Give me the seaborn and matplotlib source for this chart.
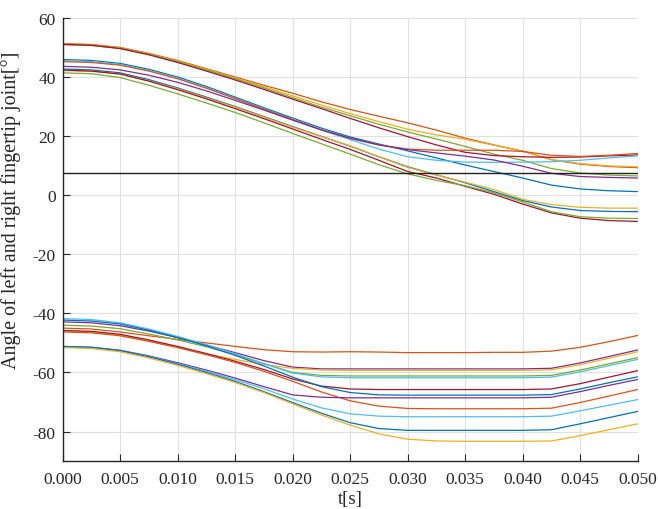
import numpy as np
import pandas as pd
import matplotlib
matplotlib.use("Agg")
import matplotlib.pyplot as plt
import seaborn as sns

# time samples [s]
t = [0.0, 0.0025, 0.005, 0.0075, 0.01, 0.0125, 0.015, 0.0175, 0.02, 0.0225,
     0.025, 0.0275, 0.03, 0.0325, 0.035, 0.0375, 0.04, 0.0425, 0.045, 0.0475, 0.05]

ref_level = 7.5

# ---- right fingertip joint (upper group) ----
up_orange_top = [51.3, 51.0, 50.0, 48.0, 45.6, 42.8, 40.0, 37.2, 34.5, 31.6, 29.0,
                 26.7, 24.5, 22.0, 19.3, 17.0, 14.9, 12.0, 10.5, 9.7, 9.3]
up_yellow_top = [51.1, 50.8, 49.8, 47.8, 45.4, 42.6, 39.7, 36.7, 33.6, 30.5, 27.6,
                 24.9, 22.3, 20.4, 18.9, 16.9, 14.9, 12.1, 10.7, 9.9, 9.6]
up_green_top = [51.0, 50.7, 49.7, 47.7, 45.2, 42.4, 39.4, 36.3, 33.0, 29.8, 26.9,
                24.0, 21.4, 19.0, 16.5, 13.9, 11.8, 9.0, 7.5, 6.8, 6.5]
up_darkred_top = [51.0, 50.7, 49.6, 47.5, 44.9, 42.0, 39.0, 35.8, 32.5, 29.3, 26.0,
                  22.8, 19.8, 17.0, 14.5, 13.4, 13.0, 12.8, 12.9, 13.3, 13.6]
up_blue_mid = [45.9, 45.6, 44.6, 42.6, 40.0, 36.8, 33.2, 29.6, 26.1, 22.7, 19.7,
               17.3, 15.0, 12.6, 10.2, 8.0, 5.8, 3.4, 2.1, 1.5, 1.2]
up_lightblue_mid = [45.5, 45.2, 44.2, 42.2, 39.6, 36.4, 32.8, 29.2, 25.6, 22.0, 18.8,
                    15.6, 13.0, 11.8, 11.2, 11.1, 11.2, 11.3, 11.8, 12.6, 13.3]
up_orange_mid = [45.2, 44.9, 44.0, 42.0, 39.4, 36.2, 32.7, 29.1, 25.6, 22.1, 19.2,
                 17.0, 15.6, 15.2, 15.2, 15.2, 14.8, 13.5, 13.1, 13.5, 14.1]
up_purple_mid = [43.6, 43.3, 42.4, 40.6, 38.2, 35.3, 32.1, 28.8, 25.4, 22.1, 19.3,
                 17.0, 15.4, 14.3, 13.2, 11.9, 9.8, 7.4, 6.3, 6.0, 5.8]
up_blue_low = [42.7, 42.4, 41.4, 39.1, 36.3, 33.2, 30.0, 26.6, 23.2, 19.9, 16.6,
               13.0, 9.6, 6.9, 4.2, 1.2, -1.8, -4.0, -5.2, -5.5, -5.6]
up_yellow_low = [42.2, 41.9, 41.0, 38.7, 36.0, 32.9, 29.8, 26.4, 23.0, 19.8, 16.7,
                 13.0, 9.4, 6.8, 4.4, 1.9, -1.4, -3.2, -4.1, -4.4, -4.4]
up_darkred_low = [42.3, 42.0, 41.0, 38.6, 35.7, 32.6, 29.3, 25.9, 22.4, 18.9, 15.5,
                  11.8, 8.0, 5.8, 3.0, 0.3, -3.0, -6.0, -7.8, -8.6, -8.9]
up_green_low = [41.4, 41.1, 39.8, 37.2, 34.3, 31.2, 28.0, 24.5, 20.9, 17.4, 13.9,
                10.3, 7.2, 5.0, 3.2, 0.8, -2.3, -5.6, -7.3, -7.8, -7.9]

# ---- left fingertip joint (lower group) ----
lo_orange_top = [-45.0, -45.3, -46.3, -47.6, -48.8, -50.0, -51.2, -52.3, -53.0, -53.1, -53.0,
                 -53.1, -53.3, -53.3, -53.3, -53.2, -53.2, -52.8, -51.5, -49.6, -47.5]
lo_purple_top = [-42.9, -43.2, -44.2, -46.0, -48.2, -50.7, -53.3, -56.0, -58.2, -58.8, -58.8,
                 -58.8, -58.8, -58.8, -58.8, -58.8, -58.8, -58.6, -56.8, -54.6, -52.4]
lo_yellow_top = [-46.0, -46.3, -47.3, -49.2, -51.4, -53.8, -55.6, -57.3, -58.6, -59.2, -59.3,
                 -59.3, -59.3, -59.3, -59.3, -59.3, -59.3, -59.1, -57.4, -55.2, -53.0]
lo_green = [-44.0, -44.3, -45.2, -47.0, -49.0, -51.3, -54.0, -57.0, -60.0, -61.0, -61.2,
            -61.2, -61.2, -61.2, -61.2, -61.2, -61.2, -61.0, -59.2, -57.1, -55.0]
lo_lightblue_top = [-41.8, -42.1, -43.2, -45.3, -47.8, -50.6, -53.7, -57.0, -60.2, -61.5, -61.8,
                    -61.8, -61.8, -61.8, -61.8, -61.8, -61.8, -61.6, -59.8, -57.7, -55.6]
lo_darkred = [-45.8, -46.1, -47.1, -49.0, -51.2, -53.6, -56.2, -59.0, -62.2, -64.6, -65.6,
              -65.8, -65.8, -65.8, -65.8, -65.8, -65.8, -65.6, -63.8, -61.6, -59.4]
lo_blue_top = [-42.3, -42.6, -43.6, -45.7, -48.2, -51.0, -54.2, -57.8, -61.6, -64.8, -66.8,
               -67.6, -67.7, -67.7, -67.7, -67.7, -67.7, -67.5, -65.6, -63.5, -61.5]
lo_orange_low = [-46.3, -46.6, -47.6, -49.5, -51.6, -54.0, -56.6, -59.6, -63.0, -66.6, -69.6,
                 -71.4, -72.2, -72.3, -72.3, -72.3, -72.3, -72.1, -70.2, -68.0, -65.8]
lo_purple_low = [-51.2, -51.5, -52.5, -54.4, -56.7, -59.2, -61.9, -64.8, -67.6, -68.4, -68.6,
                 -68.6, -68.6, -68.6, -68.6, -68.6, -68.6, -68.4, -66.5, -64.4, -62.4]
lo_lightblue_low = [-51.4, -51.7, -52.7, -54.6, -57.0, -59.6, -62.4, -65.5, -69.0, -72.0, -74.0,
                    -74.8, -75.0, -75.0, -75.0, -75.0, -75.0, -74.8, -73.0, -71.1, -69.2]
lo_blue_low = [-51.2, -51.5, -52.6, -54.7, -57.2, -60.0, -63.0, -66.5, -70.2, -73.8, -77.0,
               -79.0, -79.6, -79.6, -79.6, -79.6, -79.6, -79.4, -77.4, -75.3, -73.2]
lo_yellow_low = [-51.6, -51.9, -53.0, -55.1, -57.6, -60.4, -63.4, -66.8, -70.6, -74.4, -77.8,
                 -80.8, -82.6, -83.2, -83.3, -83.3, -83.3, -83.2, -81.4, -79.4, -77.4]

BLUE, ORANGE, YELLOW, PURPLE = "#0072BD", "#D95319", "#EDB120", "#7E2F8E"
GREEN, LBLUE, DRED = "#77AC30", "#4DBEEE", "#A2142F"

series = [
    ("u1", up_orange_top, ORANGE), ("u2", up_yellow_top, YELLOW),
    ("u3", up_green_top, GREEN), ("u4", up_darkred_top, DRED),
    ("u5", up_blue_mid, BLUE), ("u6", up_lightblue_mid, LBLUE),
    ("u7", up_orange_mid, ORANGE), ("u8", up_purple_mid, PURPLE),
    ("u9", up_blue_low, BLUE), ("u10", up_yellow_low, YELLOW),
    ("u11", up_darkred_low, DRED), ("u12", up_green_low, GREEN),
    ("l1", lo_orange_top, ORANGE), ("l2", lo_purple_top, PURPLE),
    ("l3", lo_yellow_top, YELLOW), ("l4", lo_green, GREEN),
    ("l5", lo_lightblue_top, LBLUE), ("l6", lo_darkred, DRED),
    ("l7", lo_blue_top, BLUE), ("l8", lo_orange_low, ORANGE),
    ("l9", lo_purple_low, PURPLE), ("l10", lo_lightblue_low, LBLUE),
    ("l11", lo_blue_low, BLUE), ("l12", lo_yellow_low, YELLOW),
]

rows = []
for name, vals, _ in series:
    for ti, v in zip(t, vals):
        rows.append({"t": ti, "angle": v, "line": name})
df = pd.DataFrame(rows)
palette = {name: c for name, _, c in series}

sns.set_style("white")
plt.rcParams["font.family"] = ["Liberation Serif", "DejaVu Serif"]
plt.rcParams["axes.unicode_minus"] = False

fig = plt.figure(figsize=(6.58, 5.10), dpi=100)
ax = fig.add_axes([0.095, 0.094, 0.874, 0.869])

ax.grid(True, color="#e0e0e0", linewidth=0.8)
ax.set_axisbelow(True)

sns.lineplot(data=df, x="t", y="angle", hue="line", palette=palette,
             estimator=None, legend=False, linewidth=0.9, ax=ax, sort=False)
ax.axhline(ref_level, color="#222222", linewidth=1.0)

ax.set_xlim(0, 0.05)
ax.set_ylim(-90, 60)
xt = [0.0, 0.005, 0.01, 0.015, 0.02, 0.025, 0.03, 0.035, 0.04, 0.045, 0.05]
ax.set_xticks(xt)
ax.set_xticklabels([f"{v:.3f}" for v in xt])
ax.set_yticks([-80, -60, -40, -20, 0, 20, 40, 60])

for s in ["top", "right"]:
    ax.spines[s].set_visible(False)
for s in ["left", "bottom"]:
    ax.spines[s].set_color("#262626")
    ax.spines[s].set_linewidth(1.0)

ax.tick_params(direction="in", length=5, width=0.8, color="#262626",
               labelsize=12.5, labelcolor="#262626", bottom=True, left=True)
ax.tick_params(axis="x", pad=7)
ax.tick_params(axis="y", pad=5)
ax.set_xlabel("t[s]", fontsize=13.5, color="#262626")
ax.set_ylabel("Angle of left and right fingertip joint[°]", fontsize=14.5,
              color="#262626")
ax.xaxis.set_label_coords(0.5, -0.066)
ax.yaxis.set_label_coords(-0.072, 0.567)

fig.savefig("out.png", dpi=100)
